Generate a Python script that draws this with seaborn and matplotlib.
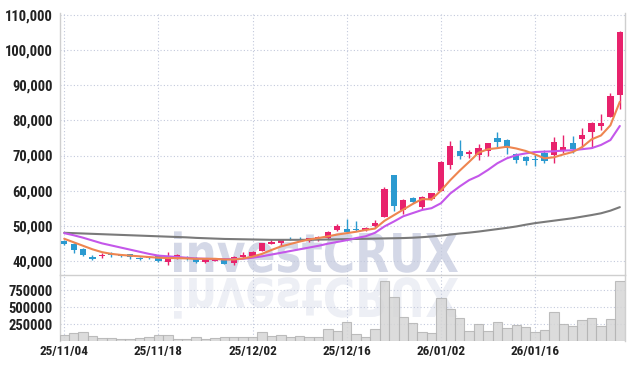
import matplotlib
matplotlib.use("Agg")
import numpy as np
import matplotlib.pyplot as plt
import seaborn as sns
from matplotlib.ticker import FuncFormatter, FixedLocator
from matplotlib.textpath import TextPath
from matplotlib.patches import PathPatch
from matplotlib.font_manager import FontProperties
from matplotlib.transforms import Affine2D

# ==========================================
# DATOS
# ==========================================
tick_labels = ['25/11/04', '25/11/18', '25/12/02', '25/12/16', '26/01/02', '26/01/16']
tick_pos = [0, 10, 20, 30, 40, 50]

opens = [45600, 44800, 43400, 41000, 41400, 42000, 41600, 42000, 40700, 41000,
         41500, 39800, 40500, 40900, 40900, 39600, 40100, 40500, 39500, 41000,
         41300, 42800, 44800, 45000, 46300, 46300, 45600, 46500, 46400, 48900,
         49000, 49100, 48900, 50000, 52500, 64400, 54600, 58000, 55400, 57600,
         60000, 67300, 71300, 70400, 70200, 71300, 75100, 74400, 70300, 69700,
         69100, 70800, 70200, 71600, 73500, 74800, 76800, 78400, 81100, 87300]
closes = [44800, 43200, 41600, 40400, 41600, 41600, 41400, 41200, 40500, 40800,
          39900, 40800, 41700, 40700, 39600, 40400, 40500, 39100, 41100, 41700,
          42600, 45000, 45300, 46000, 46100, 46000, 46500, 46800, 48300, 49800,
          48100, 48800, 49300, 50800, 60400, 55500, 57200, 56900, 58200, 59200,
          68200, 72800, 69900, 70900, 72100, 73500, 73900, 72100, 68600, 68300,
          68600, 68300, 73800, 72400, 71900, 75700, 79200, 79200, 87000, 105100]
highs = [46000, 45000, 43800, 41600, 42300, 42500, 41900, 42000, 41200, 41400,
         41600, 42500, 42000, 41300, 41000, 40700, 40800, 40700, 41300, 42500,
         42700, 45100, 46200, 46300, 46800, 46800, 46600, 47000, 48400, 50400,
         51800, 51400, 49600, 51500, 61000, 64500, 57500, 58300, 58500, 59300,
         68500, 74000, 74400, 71500, 73200, 73600, 76700, 74600, 70600, 69800,
         70300, 71600, 75300, 75700, 75600, 77700, 79400, 81800, 87900, 105300]
lows = [44500, 42300, 41400, 40200, 40800, 41200, 41000, 40600, 40300, 40600,
        39800, 38900, 40400, 40300, 39400, 39400, 40000, 39000, 38900, 40800,
        41200, 42700, 44700, 44200, 45900, 45800, 45400, 45600, 46300, 48400,
        47900, 48500, 48500, 49700, 52400, 54200, 53300, 56400, 54800, 57300,
        59800, 66100, 68900, 69200, 68600, 69900, 72300, 70500, 68000, 67200,
        67000, 68000, 67800, 70600, 70600, 72400, 72000, 77400, 80900, 83200]
volumes = [88000, 122000, 137000, 78000, 48000, 48000, 38000, 38000, 48000, 59000,
           93000, 95000, 38000, 38000, 63000, 38000, 48000, 59000, 59000, 59000,
           59000, 132000, 83000, 88000, 59000, 73000, 59000, 59000, 186000, 157000,
           282000, 100000, 68000, 188000, 880000, 651000, 355000, 262000, 132000, 118000,
           637000, 471000, 343000, 147000, 250000, 147000, 279000, 191000, 240000, 210000,
           132000, 162000, 426000, 250000, 225000, 309000, 338000, 225000, 323000, 882000]

ma_short = [46300, 45300, 44300, 43300, 42500, 42000, 41700, 41500, 41300, 41100,
            40900, 40800, 40800, 40700, 40600, 40600, 40600, 40400, 40400, 40700,
            41200, 42000, 43100, 44100, 44800, 45500, 46100, 46500, 47000, 47500,
            47900, 48300, 48800, 49200, 51400, 53000, 54600, 56200, 57600, 57500,
            60000, 63000, 65700, 68200, 70800, 71800, 72100, 72500, 72000, 71300,
            70300, 69200, 69500, 70300, 71000, 72400, 74600, 75700, 78600, 85300]
ma_mid = [47900, 47300, 46600, 45800, 45000, 44400, 43800, 43200, 42600, 42000,
          41500, 41300, 41100, 40900, 40700, 40600, 40500, 40500, 40500, 40600,
          40900, 41300, 41800, 42300, 42800, 43300, 43800, 44300, 44900, 45400,
          45900, 46500, 47000, 48000, 49800, 51200, 52700, 53600, 54500, 55000,
          56400, 59200, 61200, 63000, 64200, 65900, 67800, 69200, 70100, 70600,
          71000, 71100, 71200, 71400, 71500, 71800, 72100, 73000, 74400, 78400]
ma_long = [48000, 47900, 47800, 47700, 47600, 47500, 47400, 47300, 47200, 47100,
           47000, 46900, 46800, 46700, 46550, 46450, 46350, 46250, 46200, 46150,
           46100, 46050, 46000, 46000, 46000, 46000, 46000, 46050, 46100, 46150,
           46200, 46250, 46300, 46350, 46400, 46450, 46500, 46600, 46750, 46950,
           47200, 47500, 47800, 48050, 48350, 48700, 49050, 49400, 49800, 50300,
           50750, 51100, 51450, 51800, 52150, 52600, 53050, 53550, 54300, 55300]

# ==========================================
# ESTILO
# ==========================================
UP_COLOR = '#e8226c'
DOWN_COLOR = '#2b9ad0'
GRID_COLOR = '#c3c9dc'
SPINE_COLOR = '#cfcfcf'
LABEL_COLOR = '#222222'
WATERMARK_COLOR = '#c6cbdf'

sns.set_theme(style='white')
plt.rcParams['font.family'] = ['Roboto Condensed', 'Roboto', 'DejaVu Sans']

fig = plt.figure(figsize=(6.34, 3.69), dpi=100)
W, H = 634.0, 369.0
ax_p = fig.add_axes([60 / W, 1 - 275.3 / H, 565 / W, (275.3 - 12.7) / H])
ax_v = fig.add_axes([60 / W, 1 - 341.3 / H, 565 / W, 66 / H])

# marca de agua (y su reflejo)
fp = FontProperties(family='DejaVu Sans', weight='bold', stretch='condensed')
tp = TextPath((0, 0), "investCRUX", size=50, prop=fp)
cap = TextPath((0, 0), "X", size=50, prop=fp).get_extents().height
bb = tp.get_extents()
sx = 284 / bb.width
sy = 39 / cap
wm = Affine2D().translate(-bb.x0, 0).scale(sx / 100, sy / 100).translate(174 / 100, (H - 272) / 100)
fig.add_artist(PathPatch(tp, transform=wm + fig.dpi_scale_trans, facecolor=WATERMARK_COLOR,
                         edgecolor='none', alpha=0.75, zorder=-2))
rf = Affine2D().translate(-bb.x0, 0).scale(sx / 100, -sy / 100).translate(174 / 100, (H - 278) / 100)
fig.add_artist(PathPatch(tp, transform=rf + fig.dpi_scale_trans, facecolor=WATERMARK_COLOR,
                         edgecolor='none', alpha=0.3, zorder=-2))

for ax in (ax_p, ax_v):
    ax.set_facecolor('none')

idx = np.arange(len(opens))
o = np.array(opens)
c = np.array(closes)
colors = [UP_COLOR if cc >= oo else DOWN_COLOR for oo, cc in zip(o, c)]

# velas
ax_p.vlines(idx, lows, highs, colors=colors, linewidth=1.0, zorder=3)
ax_p.bar(idx, np.maximum(np.abs(c - o), 150), bottom=np.minimum(o, c), width=0.66,
         color=colors, linewidth=0, zorder=4)

# medias móviles
sns.lineplot(x=idx, y=ma_long, ax=ax_p, color='#7a7a7a', linewidth=1.5, zorder=5)
sns.lineplot(x=idx, y=ma_mid, ax=ax_p, color='#c457ea', linewidth=1.5, zorder=5)
sns.lineplot(x=idx, y=ma_short, ax=ax_p, color='#ee8550', linewidth=1.5, zorder=6)

# volumen
sns.barplot(x=idx, y=volumes, ax=ax_v, native_scale=True, width=1.0, color='#d6d6d6',
            saturation=1, edgecolor='#b4b4b4', linewidth=0.8, alpha=0.85, zorder=3)

# ejes
ax_p.set_xlim(-0.45, 59.55)
ax_v.set_xlim(-0.45, 59.55)
ax_p.set_ylim(35900, 110650)
ax_v.set_ylim(0, 970000)

ax_p.yaxis.set_major_locator(FixedLocator(np.arange(40000, 110001, 10000)))
ax_p.yaxis.set_major_formatter(FuncFormatter(lambda v, p: f"{int(v):,}"))
ax_v.yaxis.set_major_locator(FixedLocator([250000, 500000, 750000]))
ax_v.yaxis.set_major_formatter(FuncFormatter(lambda v, p: f"{int(v)}"))

for ax in (ax_p, ax_v):
    ax.xaxis.set_major_locator(FixedLocator(tick_pos))
    ax.grid(True, color=GRID_COLOR, linestyle=(0, (1, 2)), linewidth=0.8)
    ax.set_axisbelow(True)
    ax.set_xlabel('')
    ax.set_ylabel('')
    ax.tick_params(length=0, labelsize=9.5, labelcolor=LABEL_COLOR, pad=5)
    ax.tick_params(axis='y', labelsize=10.5)
    for lab in ax.get_yticklabels():
        lab.set_fontweight('bold')
    for s in ax.spines.values():
        s.set_color(SPINE_COLOR)
        s.set_linewidth(1.0)
    ax.spines['top'].set_visible(False)

ax_p.set_xticklabels([])
ax_v.set_xticklabels(tick_labels, fontweight='bold')
ax_v.tick_params(axis='x', pad=3)
ax_v.spines['bottom'].set_visible(False)

plt.savefig('out.png', dpi=100)
plt.close()
